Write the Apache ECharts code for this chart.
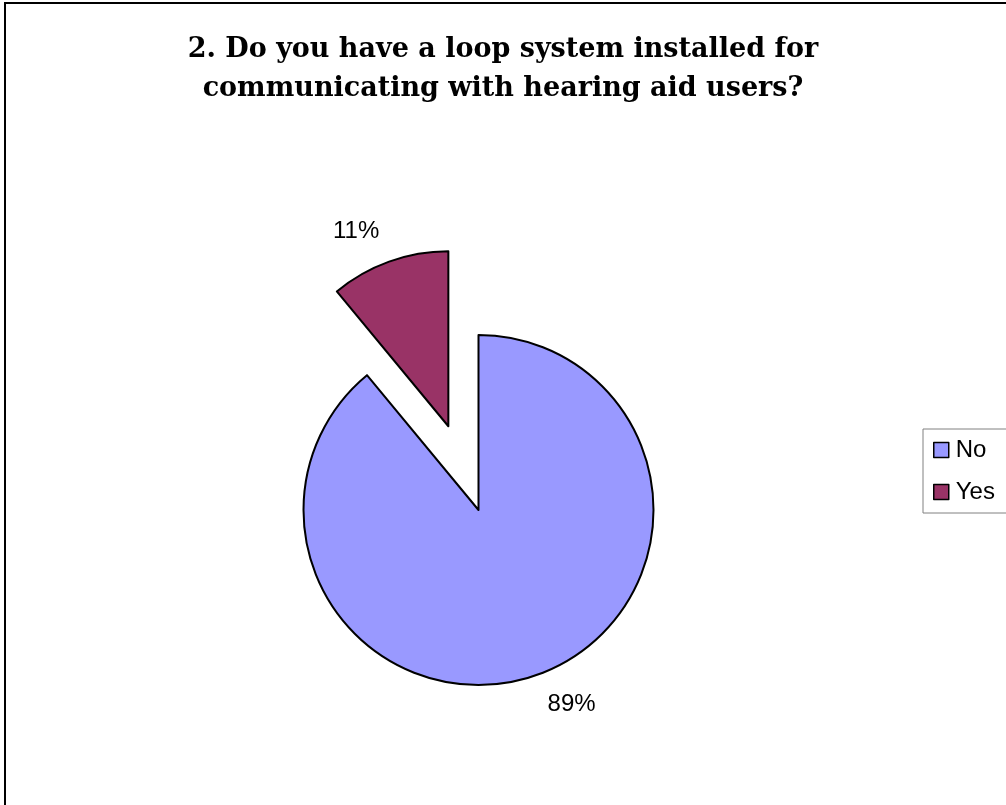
<!DOCTYPE html>
<html>
<head>
<meta charset="utf-8">
<title>Loop system survey</title>
<script src="https://cdn.jsdelivr.net/npm/echarts@6/dist/echarts.min.js"></script>
<style>
  html, body { margin: 0; padding: 0; background: #ffffff; }
  #chart { width: 1006px; height: 805px; }
</style>
</head>
<body>
<div id="chart"></div>
<script>
// Survey answers, in percent
const categories = ['No', 'Yes'];
const shares = [89, 11];
const sliceColors = ['#9999FF', '#993366'];
const titleLines = [
  '2. Do you have a loop system installed for',
  'communicating with hearing aid users?'
];

const chart = echarts.init(document.getElementById('chart'), null, { renderer: 'canvas' });

const pieData = categories.map((name, i) => ({
  name: name,
  value: shares[i],
  selected: name === 'Yes',
  itemStyle: { color: sliceColors[i] }
}));

chart.setOption({
  animation: false,
  backgroundColor: '#ffffff',
  title: {
    text: titleLines.join('\n'),
    left: 'center',
    top: 30,
    padding: [0, 0, 0, 12],
    textStyle: {
      fontFamily: 'DejaVu Serif',
      fontWeight: 'bold',
      fontSize: 27,
      lineHeight: 39,
      color: '#000000'
    }
  },
  legend: {
    orient: 'vertical',
    left: 923,
    top: 429,
    padding: [9, 24, 9, 10],
    itemGap: 18,
    itemWidth: 15,
    itemHeight: 15,
    icon: 'rect',
    borderColor: '#808080',
    borderWidth: 1,
    borderRadius: 0,
    textStyle: {
      fontFamily: 'Liberation Sans',
      fontSize: 24,
      lineHeight: 24,
      color: '#000000',
      padding: [0, 0, 0, 2]
    },
    itemStyle: { borderColor: '#000000', borderWidth: 1.5 },
    selectedMode: false,
    data: categories
  },
  graphic: [{
    type: 'rect',
    silent: true,
    shape: { x: 5, y: 3, width: 1100, height: 1000 },
    style: { fill: null, stroke: '#000000', lineWidth: 2 }
  }],
  series: [{
    type: 'pie',
    center: [478.5, 510],
    radius: 175,
    startAngle: 90,
    clockwise: true,
    selectedMode: 'single',
    selectedOffset: 89,
    avoidLabelOverlap: false,
    itemStyle: { borderColor: '#000000', borderWidth: 2 },
    label: {
      show: true,
      position: 'outside',
      formatter: '{d}%',
      fontFamily: 'Liberation Sans',
      fontSize: 24,
      color: '#000000',
      distanceToLabelLine: -1
    },
    labelLine: { show: false, length: 32, length2: 0 },
    emphasis: { disabled: true },
    data: pieData
  }]
});
</script>
</body>
</html>
